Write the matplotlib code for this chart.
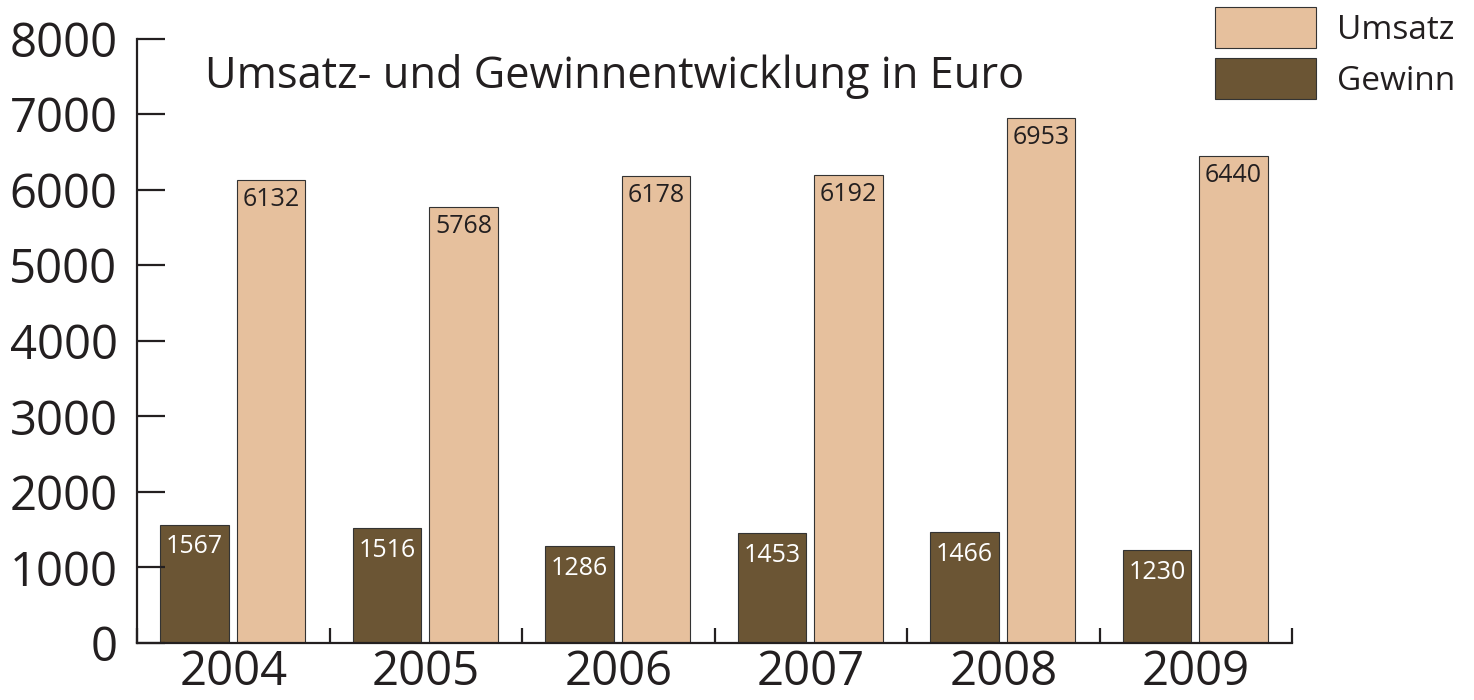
import matplotlib.pyplot as plt
from matplotlib.patches import Patch
import numpy as np

plt.rcParams['font.family'] = ['Open Sans', 'DejaVu Sans']

years = ["2004", "2005", "2006", "2007", "2008", "2009"]
gewinn = [1567, 1516, 1286, 1453, 1466, 1230]
umsatz = [6132, 5768, 6178, 6192, 6953, 6440]

c_gewinn = "#6b5534"
c_umsatz = "#e6c09d"
c_ink = "#231f20"

fig = plt.figure(figsize=(14.74, 7), dpi=100)
ax = fig.add_axes([137/1474, 57/700, 1155/1474, 604.5/700])

x = np.arange(len(years))
w = 0.357
ax.bar(x + 0.299, gewinn, w, color=c_gewinn, edgecolor="#333333", linewidth=0.8)
ax.bar(x + 0.696, umsatz, w, color=c_umsatz, edgecolor="#333333", linewidth=0.8)

# value labels just inside the top of each bar
for i in range(len(years)):
    ax.annotate(str(gewinn[i]), (x[i] + 0.299, gewinn[i]), xytext=(0, -7),
                textcoords="offset points", ha="center", va="top",
                fontsize=18, color="white")
    ax.annotate(str(umsatz[i]), (x[i] + 0.696, umsatz[i]), xytext=(0, -5),
                textcoords="offset points", ha="center", va="top",
                fontsize=18, color=c_ink)

ax.set_xlim(0, len(years))
ax.set_ylim(0, 8000)
ax.set_yticks(range(0, 8001, 1000))
ax.set_xticks(x + 0.5)
ax.set_xticklabels(years)
ax.set_xticks(np.arange(len(years) + 1), minor=True)

for s in ["top", "right"]:
    ax.spines[s].set_visible(False)
for s in ["left", "bottom"]:
    ax.spines[s].set_linewidth(1.6)
    ax.spines[s].set_color(c_ink)

ax.tick_params(axis="y", direction="in", length=20, width=1.6, color=c_ink,
               labelsize=34, labelcolor=c_ink, pad=14)
ax.tick_params(axis="x", which="major", length=0, labelsize=34,
               labelcolor=c_ink, pad=4)
ax.tick_params(axis="x", which="minor", direction="in", length=11,
               width=1.6, color=c_ink)

ax.text(0.059, 0.918, "Umsatz- und Gewinnentwicklung in Euro",
        transform=ax.transAxes, fontsize=31.2, color=c_ink, va="baseline")

handles = [Patch(facecolor=c_umsatz, edgecolor="#333333", linewidth=0.8, label="Umsatz"),
           Patch(facecolor=c_gewinn, edgecolor="#333333", linewidth=0.8, label="Gewinn")]
fig.legend(handles=handles, loc="upper left", bbox_to_anchor=(1215/1474, 1 - 7/700),
           frameon=False, fontsize=24, handlelength=3.03, handleheight=1.52,
           handletextpad=0.63, labelspacing=0.3, borderpad=0, borderaxespad=0,
           labelcolor=c_ink)

fig.savefig("out.png", dpi=100)
